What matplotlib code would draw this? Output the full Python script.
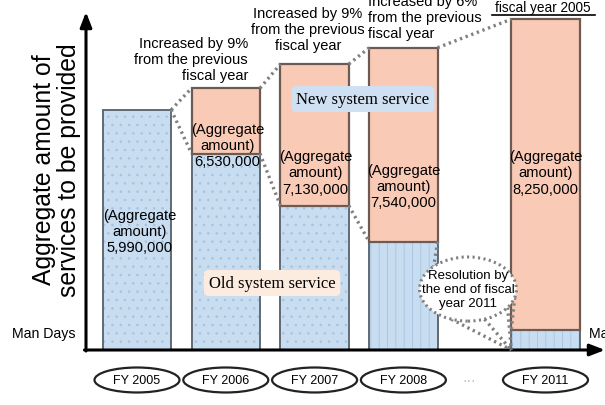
import matplotlib
matplotlib.use("Agg")
import math
import matplotlib.pyplot as plt
from matplotlib.patches import Ellipse
from matplotlib.lines import Line2D

# ---------------- data ----------------
years = ["FY 2005", "FY 2006", "FY 2007", "FY 2008", "FY 2011"]
x_pos = [0, 1, 2, 3, 4.6]                     # category slots (gap for "...")
totals = [5.99, 6.53, 7.13, 7.54, 8.25]        # million man days (labelled)
old_service = [5.99, 4.9, 3.6, 2.7, 0.5]       # estimated old system portion
new_service = [t - o for t, o in zip(totals, old_service)]
hatch_kind = ["..", "..", "..", "||", "||"]
increase_notes = [
    "Increased by 9%\nfrom the previous\nfiscal year",
    "Increased by 9%\nfrom the previous\nfiscal year",
    "Increased by 6%\nfrom the previous\nfiscal year",
]

W, H = 605, 406
plt.rcParams["font.family"] = ["Liberation Sans", "DejaVu Sans"]
plt.rcParams["hatch.linewidth"] = 0.6

fig = plt.figure(figsize=(W / 100, H / 100), dpi=100)
ax = fig.add_axes([86 / W, 55 / H, (W - 86) / W, 338 / H])
ax.set_xlim(-0.574, 5.27)
ax.set_ylim(0, 8.43)
ax.axis("off")


def ft(x, y):
    return x / W, 1 - y / H


BLUE = "#c9ddf1"
BLUE_H = "#a5c3e3"
PINK = "#f9cbb6"
bw = 0.77

# bars: hatch layer + outline
for i in range(len(years)):
    ax.bar(x_pos[i], old_service[i], width=bw, color=BLUE, edgecolor=BLUE_H,
           hatch=hatch_kind[i], linewidth=0, zorder=2)
    ax.bar(x_pos[i], old_service[i], width=bw, fill=False,
           edgecolor="#55606a", linewidth=1.3, zorder=3)
    if new_service[i] > 0.001:
        ax.bar(x_pos[i], new_service[i], bottom=old_service[i], width=bw,
               color=PINK, edgecolor="#6e5a54", linewidth=1.6, zorder=3)

# dotted connectors between bars
dot = dict(color="#808080", lw=2.4, linestyle=(0, (0.7, 1.1)), zorder=4,
           solid_capstyle="butt", clip_on=False)
for i in range(3):
    ax.plot([x_pos[i] + bw / 2, x_pos[i + 1] - bw / 2], [totals[i], totals[i + 1]], **dot)
    ax.plot([x_pos[i] + bw / 2, x_pos[i + 1] - bw / 2],
            [old_service[i], old_service[i + 1]], **dot)
ax.plot([x_pos[3] + bw / 2, x_pos[4] - bw / 2], [totals[3], totals[4]], **dot)

# bubble "Resolution by ..."
bc = (3.727, 1.52)
bwid, bhei = 1.09, 1.6


def epoint(a):
    return (bc[0] + bwid / 2 * math.cos(math.radians(a)),
            bc[1] + bhei / 2 * math.sin(math.radians(a)))


p = epoint(135)
ax.plot([x_pos[3] + bw / 2, p[0]], [old_service[3], p[1]], **dot)
for a in (-110, -70, -35):
    p = epoint(a)
    ax.plot([p[0], x_pos[4] - bw / 2], [p[1], 0], **dot)
p = epoint(-15)
ax.plot([p[0], x_pos[4] - bw / 2], [p[1], old_service[4]], **dot)
ax.add_patch(Ellipse(bc, bwid, bhei, facecolor="white", edgecolor="#808080",
                     lw=2.2, linestyle=(0, (0.7, 1.1)), zorder=5))
ax.text(bc[0], bc[1], "Resolution by\nthe end of fiscal\nyear 2011", ha="center",
        va="center", fontsize=9.5, zorder=6)

# aggregate labels
label_y = [2.97, 5.11, 4.43, 4.09, 4.43]
label_dx = [0.03, 0.02, 0.01, 0.0, 0.0]
for i in range(len(years)):
    ax.text(x_pos[i] + label_dx[i], label_y[i],
            "(Aggregate\namount)\n{:,}".format(int(round(totals[i] * 1e6))),
            ha="center", va="center", fontsize=10.6, zorder=6)

# axes arrows
ax.annotate("", xy=(0, 1), xytext=(0, -0.003), xycoords="axes fraction",
            arrowprops=dict(arrowstyle="-|>,head_length=0.9,head_width=0.35",
                            color="black", lw=2.2, shrinkA=0, shrinkB=0))
ax.annotate("", xy=(1.0, 0), xytext=(-0.003, 0), xycoords="axes fraction",
            arrowprops=dict(arrowstyle="-|>,head_length=0.9,head_width=0.35",
                            color="black", lw=2.2, shrinkA=0, shrinkB=0))

# category ellipses below axis
for i in range(len(years)):
    ax.add_patch(Ellipse((x_pos[i], -0.748), 0.957, 0.623, facecolor="white",
                         edgecolor="#222222", lw=1.6, clip_on=False, zorder=5))
    ax.text(x_pos[i], -0.74, years[i], ha="center", va="center", fontsize=9,
            clip_on=False, zorder=6)
ax.text(3.74, -0.74, "···", ha="center", va="center", fontsize=10,
        color="#b8b8b8", clip_on=False)

# text annotations
fig.text(*ft(248, 60), increase_notes[0], ha="right", va="center", fontsize=10.5)
fig.text(*ft(308, 30), increase_notes[1], ha="center", va="center", fontsize=10.5)
fig.text(*ft(368, 18), increase_notes[2], ha="left", va="center", fontsize=10.5)
fig.text(*ft(543, 8), "fiscal year 2005", ha="center", va="center", fontsize=9.8)
fig.add_artist(Line2D([492 / W, 595 / W], [1 - 15.5 / H, 1 - 15.5 / H],
                      color="black", lw=1.2))

fig.text(*ft(272, 284), "Old system service", ha="center", va="center",
         fontsize=12, family="Liberation Serif", zorder=7,
         bbox=dict(boxstyle="round,pad=0.3", fc="#fcebdf", ec="none"))
fig.text(*ft(363, 100), "New system service", ha="center", va="center",
         fontsize=12, family="Liberation Serif", zorder=7,
         bbox=dict(boxstyle="round,pad=0.3", fc="#cfe0f2", ec="none"))

fig.text(*ft(56.5, 170), "Aggregate amount of\nservices to be provided",
         rotation=90, ha="center", va="center", fontsize=17.8, linespacing=1.1)
fig.text(*ft(12, 334), "Man Days", ha="left", va="center", fontsize=10.2)
fig.text(*ft(589, 334), "Man Days", ha="left", va="center", fontsize=10.2)

fig.savefig("out.png", dpi=100)
